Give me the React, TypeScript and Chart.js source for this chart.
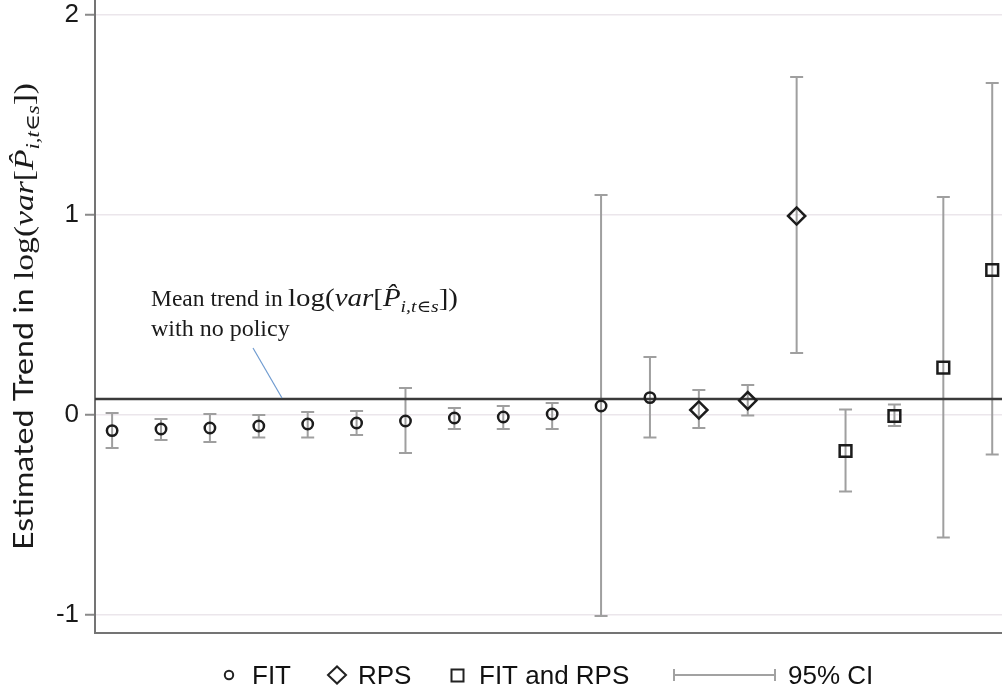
import React, { useEffect, useRef } from "react";
import { Chart, registerables } from "chart.js";

Chart.register(...registerables);

// ---- data ----
const fitX = [0, 1, 2, 3, 4, 5, 6, 7, 8, 9, 10, 11];
const fitEst = [-0.078, -0.07, -0.065, -0.055, -0.045, -0.04, -0.03, -0.015, -0.01, 0.005, 0.045, 0.087];
const fitLow = [-0.165, -0.125, -0.135, -0.113, -0.113, -0.1, -0.19, -0.07, -0.07, -0.07, -1.005, -0.113];
const fitHigh = [0.01, -0.02, 0.005, 0.0, 0.015, 0.02, 0.135, 0.035, 0.045, 0.06, 1.1, 0.29];

const rpsX = [12, 13, 14];
const rpsEst = [0.025, 0.072, 0.995];
const rpsLow = [-0.065, -0.002, 0.31];
const rpsHigh = [0.125, 0.15, 1.69];

const bothX = [15, 16, 17, 18];
const bothEst = [-0.18, -0.005, 0.237, 0.725];
const bothLow = [-0.383, -0.055, -0.613, -0.197];
const bothHigh = [0.028, 0.053, 1.09, 1.66];

const meanTrend = 0.08;
const yTicks = [-1, 0, 1, 2];
const legendLabels = ["FIT", "RPS", "FIT and RPS", "95% CI"];
const yTitlePrefix = "Estimated Trend in ";
const noteLine1 = "Mean trend in ";
const noteLine2 = "with no policy";

const groups = [
  { x: fitX, low: fitLow, high: fitHigh },
  { x: rpsX, low: rpsLow, high: rpsHigh },
  { x: bothX, low: bothLow, high: bothHigh },
];

type Seg = { t: string; f: string; dy?: number };

function segsWidth(ctx: CanvasRenderingContext2D, segs: Seg[]) {
  let w = 0;
  for (const s of segs) {
    ctx.font = s.f;
    w += ctx.measureText(s.t).width;
  }
  return w;
}

function drawSegs(ctx: CanvasRenderingContext2D, segs: Seg[], x: number, y: number, targetW?: number) {
  const w = segsWidth(ctx, segs);
  const sx = targetW ? targetW / w : 1;
  ctx.save();
  ctx.translate(x, y);
  ctx.scale(sx, 1);
  ctx.textBaseline = "alphabetic";
  ctx.textAlign = "left";
  let cx = 0;
  for (const s of segs) {
    ctx.font = s.f;
    ctx.fillText(s.t, cx, s.dy || 0);
    cx += ctx.measureText(s.t).width;
  }
  ctx.restore();
}

const SERIF = '"Liberation Serif", "DejaVu Serif", serif';
function mathSegs(size: number): Seg[] {
  return [
    { t: "log(", f: `${size}px ${SERIF}` },
    { t: "var", f: `italic ${size}px ${SERIF}` },
    { t: "[", f: `${size}px ${SERIF}` },
    { t: "P\u0302", f: `italic ${size}px ${SERIF}` },
    { t: "i,t\u2208s", f: `italic ${Math.round(size * 0.68)}px ${SERIF}`, dy: size * 0.22 },
    { t: "])", f: `${size}px ${SERIF}` },
  ];
}

const overlayPlugin = {
  id: "overlay",
  beforeDatasetsDraw(chart: any) {
    const { ctx, chartArea, scales } = chart;
    const xs = scales.x;
    const ys = scales.y;
    ctx.save();
    ctx.beginPath();
    ctx.rect(chartArea.left, chartArea.top, chartArea.right - chartArea.left, chartArea.bottom - chartArea.top);
    ctx.clip();
    ctx.strokeStyle = "#9f9f9f";
    ctx.lineWidth = 2;
    const cap = 6.5;
    for (const g of groups) {
      g.x.forEach((xv, i) => {
        const px = xs.getPixelForValue(xv);
        const pl = ys.getPixelForValue(g.low[i]);
        const ph = ys.getPixelForValue(g.high[i]);
        ctx.beginPath();
        ctx.moveTo(px, pl);
        ctx.lineTo(px, ph);
        ctx.moveTo(px - cap, pl);
        ctx.lineTo(px + cap, pl);
        ctx.moveTo(px - cap, ph);
        ctx.lineTo(px + cap, ph);
        ctx.stroke();
      });
    }
    const my = ys.getPixelForValue(meanTrend);
    ctx.strokeStyle = "#3a3a3a";
    ctx.lineWidth = 2.5;
    ctx.beginPath();
    ctx.moveTo(chartArea.left, my);
    ctx.lineTo(chartArea.right, my);
    ctx.stroke();
    ctx.restore();
  },
  afterDraw(chart: any) {
    const { ctx } = chart;
    ctx.save();
    ctx.fillStyle = "#1a1a1a";

    // annotation
    drawSegs(ctx, [{ t: noteLine1, f: `23.5px ${SERIF}` }], 151, 306);
    drawSegs(ctx, mathSegs(25), 288, 306, 170);
    drawSegs(ctx, [{ t: noteLine2, f: `24px ${SERIF}` }], 151, 336);
    ctx.strokeStyle = "#6f9bd0";
    ctx.lineWidth = 1.2;
    ctx.beginPath();
    ctx.moveTo(253, 348);
    ctx.lineTo(282, 398);
    ctx.stroke();

    // y axis title
    ctx.save();
    ctx.translate(33, 550);
    ctx.rotate(-Math.PI / 2);
    ctx.fillStyle = "#1a1a1a";
    drawSegs(ctx, [{ t: yTitlePrefix, f: '26px Lato, "Open Sans", sans-serif' }], 0, 0, 270);
    drawSegs(ctx, mathSegs(28), 270, 0, 197);
    ctx.restore();

    // legend
    const ly = 675;
    const font = '26px "Liberation Sans", Arial, sans-serif';
    ctx.strokeStyle = "#222";
    ctx.lineWidth = 2;
    ctx.beginPath();
    ctx.arc(229, ly, 4.2, 0, Math.PI * 2);
    ctx.stroke();
    ctx.beginPath();
    ctx.moveTo(328, ly);
    ctx.lineTo(337, ly - 8.5);
    ctx.lineTo(346, ly);
    ctx.lineTo(337, ly + 8.5);
    ctx.closePath();
    ctx.stroke();
    ctx.strokeRect(451.5, ly - 5.5, 12, 12);
    ctx.strokeStyle = "#a2a2a2";
    ctx.beginPath();
    ctx.moveTo(674, ly);
    ctx.lineTo(775, ly);
    ctx.moveTo(674, ly - 6);
    ctx.lineTo(674, ly + 6);
    ctx.moveTo(775, ly - 6);
    ctx.lineTo(775, ly + 6);
    ctx.stroke();
    ctx.fillStyle = "#111";
    ctx.font = font;
    ctx.textBaseline = "alphabetic";
    ctx.textAlign = "left";
    ctx.fillText(legendLabels[0], 252, 684);
    ctx.fillText(legendLabels[1], 358, 684);
    ctx.fillText(legendLabels[2], 479, 684);
    ctx.fillText(legendLabels[3], 788, 684);
    ctx.restore();
  },
};

const toPts = (xs: number[], ys: number[]) => xs.map((x, i) => ({ x, y: ys[i] }));

export default function App() {
  const ref = useRef<HTMLCanvasElement | null>(null);
  useEffect(() => {
    if (!ref.current) return;
    const common = {
      backgroundColor: "rgba(0,0,0,0)",
      borderColor: "#1c1c1c",
      borderWidth: 2.5,
      pointHoverRadius: 0,
    };
    const chart = new Chart(ref.current, {
      type: "scatter",
      data: {
        datasets: [
          { ...common, label: legendLabels[0], data: toPts(fitX, fitEst), pointStyle: "circle", pointRadius: 5.2 },
          { ...common, label: legendLabels[1], data: toPts(rpsX, rpsEst), pointStyle: "rectRot", pointRadius: 8.6 },
          { ...common, label: legendLabels[2], data: toPts(bothX, bothEst), pointStyle: "rect", pointRadius: 8.3 },
        ],
      },
      options: {
        responsive: false,
        animation: false,
        events: [],
        layout: { padding: 0, autoPadding: false },
        plugins: { legend: { display: false }, tooltip: { enabled: false }, title: { display: false } },
        scales: {
          x: {
            type: "linear",
            min: -0.35,
            max: 18.2,
            grid: { display: false, drawTicks: false },
            border: { display: true, color: "#747474", width: 2 },
            ticks: { display: false },
            afterFit: (s: any) => {
              s.height = 63;
              s.paddingLeft = 0;
              s.paddingRight = 0;
            },
          },
          y: {
            type: "linear",
            min: -1.09,
            max: 2.075,
            afterBuildTicks: (s: any) => {
              s.ticks = yTicks.map((v) => ({ value: v }));
            },
            grid: {
              color: "#ebe6eb",
              lineWidth: 1.5,
              tickColor: "#8a8a8a",
              tickWidth: 2,
              tickLength: 10,
            },
            border: { display: true, color: "#747474", width: 2 },
            ticks: {
              padding: 6,
              color: "#1a1a1a",
              font: { family: '"Liberation Sans", Arial, sans-serif', size: 26 },
              callback: (v: any) => String(v),
            },
            afterFit: (s: any) => {
              s.width = 95;
              s.paddingTop = 0;
              s.paddingBottom = 0;
            },
          },
        },
      },
      plugins: [overlayPlugin],
    } as any);
    return () => chart.destroy();
  }, []);
  return (
    <div style={{ position: "fixed", left: 0, top: 0, width: 1002, height: 696, background: "#fff" }}>
      <canvas ref={ref} width={1002} height={696} style={{ width: 1002, height: 696, display: "block" }} />
    </div>
  );
}
